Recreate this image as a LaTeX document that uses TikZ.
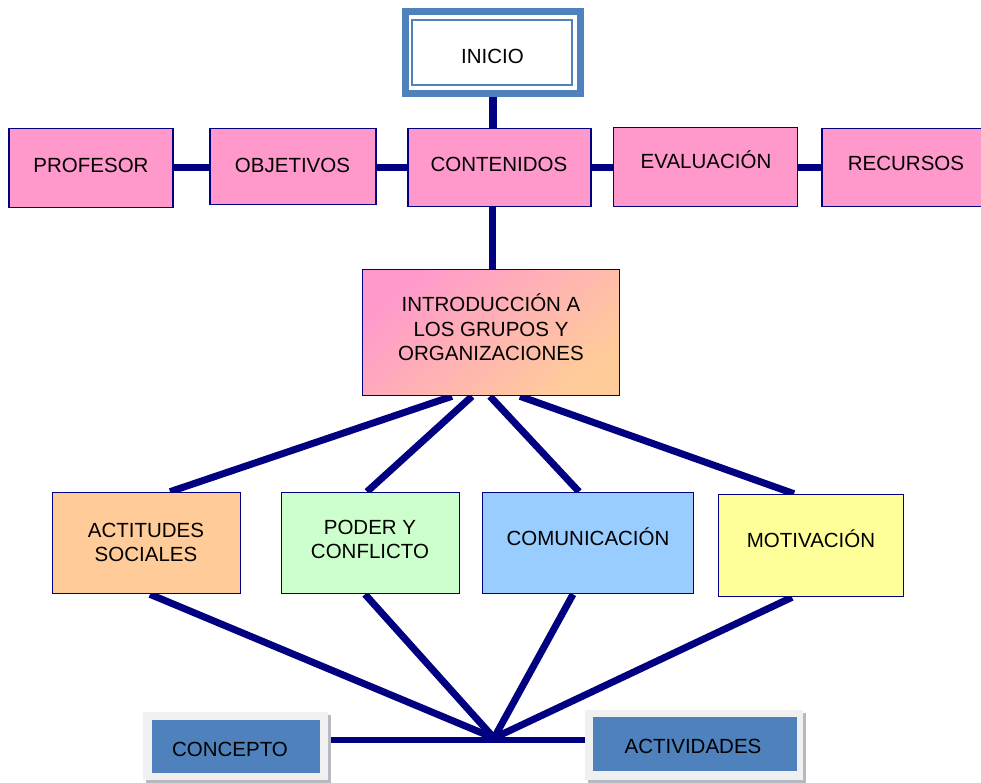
\documentclass[tikz,border=0pt]{standalone}
\usepackage{fontspec}
\setmainfont{Liberation Sans}
\usetikzlibrary{backgrounds}
\definecolor{navyc}{HTML}{000080}
\definecolor{pinkc}{HTML}{FF99CC}
\definecolor{peachc}{HTML}{FFCC99}
\definecolor{greenc}{HTML}{CCFFCC}
\definecolor{bluec}{HTML}{99CCFF}
\definecolor{yellowc}{HTML}{FFFF99}
\definecolor{steelc}{HTML}{4F81BD}
\definecolor{framec}{HTML}{F0F0F0}
\definecolor{shadowc}{HTML}{B8B8C0}
\begin{document}
\begin{tikzpicture}[x=1pt,y=-1pt,
  box/.style={draw=navyc, line width=1.6pt, inner sep=0pt, rectangle},
  pinkbox/.style={box, fill=pinkc},
  lbl/.style={font=\fontsize{20.5}{24.5}\selectfont, inner sep=0pt, anchor=base, align=center},
  mlbl/.style={font=\fontsize{20.5}{24.5}\selectfont, inner sep=0pt, anchor=center, align=center},
  conn/.style={draw=navyc, line width=7.5pt},
  fan/.style={draw=navyc, line width=7pt},
  frame/.style={fill=framec, inner sep=0pt, rectangle},
  bluebox/.style={fill=steelc, inner sep=0pt, rectangle},
]
\useasboundingbox (0,0) rectangle (981,782);

% INICIO
\node[draw=steelc, line width=7pt, fill=white, minimum width=175pt, minimum height=82pt, inner sep=0pt] (inicio) at (493,52.5) {};
\node[draw=steelc, line width=1.8pt, minimum width=160pt, minimum height=65pt, inner sep=0pt] (inicioin) at (492,52.5) {};
\node[lbl] (tinicio) at (492.5,63) {INICIO};

% top row
\node[pinkbox, minimum width=164pt, minimum height=79pt] (prof) at (91,168) {};
\node[lbl] (tprof) at (91,172) {PROFESOR};
\node[pinkbox, minimum width=166pt, minimum height=76pt] (obj) at (293,166.5) {};
\node[lbl] (tobj) at (292.5,172) {OBJETIVOS};
\node[pinkbox, minimum width=183pt, minimum height=78pt] (cont) at (499.5,167.5) {};
\node[lbl] (tcont) at (499,171) {CONTENIDOS};
\node[pinkbox, minimum width=184pt, minimum height=79pt] (eval) at (705.5,167) {};
\node[lbl] (teval) at (706,168) {EVALUACIÓN};
\node[pinkbox, minimum width=180pt, minimum height=78pt] (rec) at (912,167.5) {};
\node[lbl] (trec) at (906,170.5) {RECURSOS};

% intro
\node[box, shade, top color=pinkc, bottom color=peachc, shading angle=40, minimum width=257pt, minimum height=126pt] (intro) at (491,332.5) {};
\node[mlbl] (tintro) at (491,327.5) {INTRODUCCIÓN A\\LOS GRUPOS Y\\ORGANIZACIONES};

% middle row
\node[box, fill=peachc, minimum width=188pt, minimum height=101pt] (act) at (146.5,543) {};
\node[mlbl] (tact) at (146,542.5) {ACTITUDES\\SOCIALES};
\node[box, fill=greenc, minimum width=178pt, minimum height=101pt] (pod) at (370.5,543) {};
\node[mlbl] (tpod) at (370,539.5) {PODER Y\\CONFLICTO};
\node[box, fill=bluec, minimum width=211pt, minimum height=101pt] (com) at (588,543) {};
\node[lbl] (tcom) at (588,545) {COMUNICACIÓN};
\node[box, fill=yellowc, minimum width=185pt, minimum height=102pt] (mot) at (811,545.5) {};
\node[lbl] (tmot) at (811,547) {MOTIVACIÓN};

% bottom boxes
\fill[shadowc] (146,715) rectangle (331,783);
\node[frame, minimum width=185pt, minimum height=68pt] (concf) at (235.5,746) {};
\node[bluebox, minimum width=168pt, minimum height=53pt] (conc) at (236,746.5) {};
\node[lbl] (tconc) at (230,756) {CONCEPTO};
\fill[shadowc] (588,713) rectangle (806,783);
\node[frame, minimum width=218pt, minimum height=70pt] (actf) at (694,745) {};
\node[bluebox, minimum width=204pt, minimum height=54pt] (acti) at (695,744) {};
\node[lbl] (tacti) at (693,753) {ACTIVIDADES};

\coordinate (hub) at (494,738);

\begin{pgfonlayer}{background}
\fill[white] (0,0) rectangle (981,782);
\draw[conn] (inicio.south) -- (cont.north -| inicio.south);
\draw[conn] (prof.east |- 0,167.5) -- (obj.west |- 0,167.5);
\draw[conn] (obj.east |- 0,167.5) -- (cont.west |- 0,167.5);
\draw[conn] (cont.east |- 0,167.5) -- (eval.west |- 0,167.5);
\draw[conn] (eval.east |- 0,167.5) -- (rec.west |- 0,167.5);
\draw[conn] (cont.south -| 492.5,0) -- ([yshift=-4pt]intro.north -| 492.5,0);

\draw[fan] (intro.south -| 452,0) -- (act.north -| 170,0);
\draw[fan] (intro.south -| 472,0) -- (pod.north -| 367,0);
\draw[fan] (intro.south -| 490,0) -- (com.north -| 579,0);
\draw[fan] (intro.south -| 520,0) -- (mot.north -| 794,0);

\draw[fan] (act.south -| 150,0) -- (hub);
\draw[fan] (pod.south -| 365,0) -- (hub);
\draw[fan] (com.south -| 573,0) -- (hub);
\draw[fan] (mot.south -| 792,0) -- (hub);
\draw[draw=navyc, line width=6pt] (concf.east |- 0,740) -- (actf.west |- 0,740);
\end{pgfonlayer}
\end{tikzpicture}
\end{document}
